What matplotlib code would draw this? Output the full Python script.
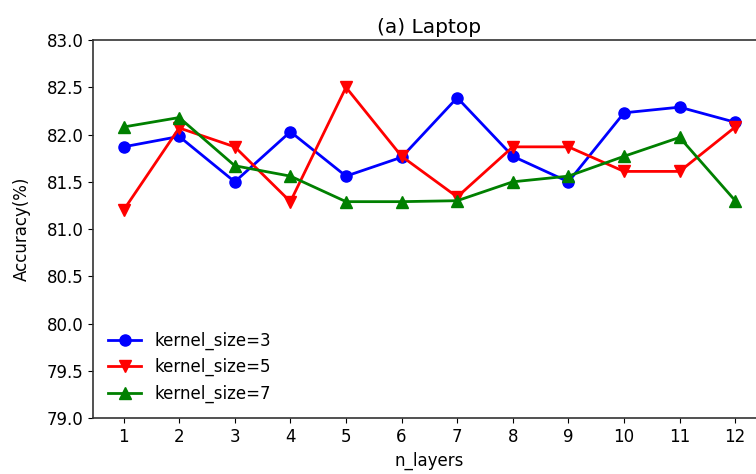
import numpy as np
import matplotlib.pyplot as plt

n_layers = [1, 2, 3, 4, 5, 6, 7, 8, 9, 10, 11, 12]
k3 = [81.87, 81.98, 81.50, 82.03, 81.56, 81.76, 82.39, 81.77, 81.50, 82.23, 82.29, 82.13]
k5 = [81.20, 82.07, 81.87, 81.29, 82.50, 81.77, 81.34, 81.87, 81.87, 81.61, 81.61, 82.08]
k7 = [82.08, 82.18, 81.67, 81.56, 81.29, 81.29, 81.30, 81.50, 81.56, 81.77, 81.97, 81.30]

plt.rcParams['font.size'] = 12

fig = plt.figure(figsize=(7.56, 4.74), dpi=100)
ax = fig.add_axes([0.123, 0.118, 0.890, 0.7975])

ax.plot(n_layers, k3, color='blue', marker='o', lw=2, ms=8, label='kernel_size=3')
ax.plot(n_layers, k5, color='red', marker='v', lw=2, ms=8, label='kernel_size=5')
ax.plot(n_layers, k7, color='green', marker='^', lw=2, ms=8, label='kernel_size=7')

ax.set_ylim(79.0, 83.0)
ax.set_xticks(n_layers)
ax.set_yticks(np.arange(79.0, 83.01, 0.5))
ax.set_xlabel('n_layers')
ax.set_ylabel('Accuracy(%)', labelpad=11)
ax.set_title('(a) Laptop', fontsize=14.5, pad=5)
for s in ax.spines.values():
    s.set_color('#333333')
    s.set_linewidth(1.2)
ax.legend(loc='lower left', frameon=False)

fig.savefig('out.png', dpi=100)
